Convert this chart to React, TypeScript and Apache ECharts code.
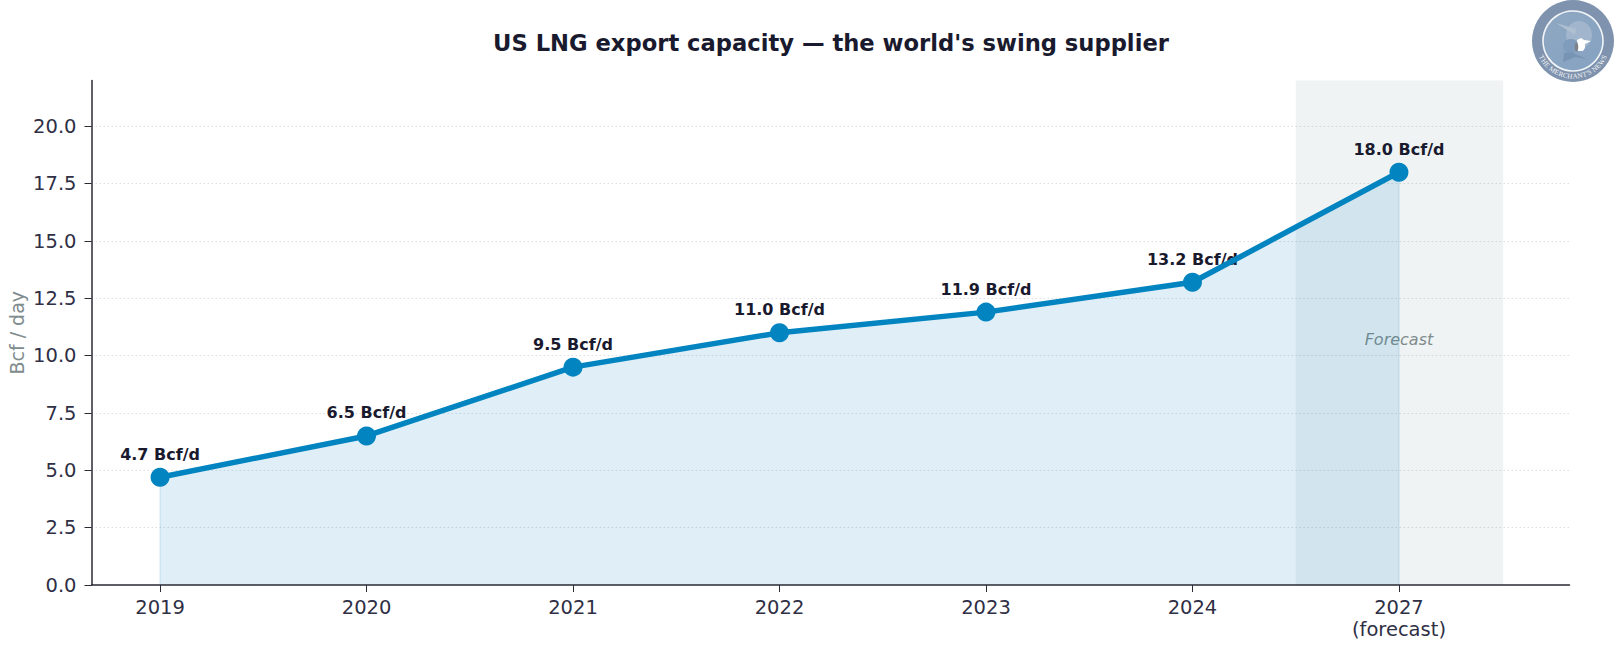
import React, { useEffect, useRef } from "react";
import * as echarts from "echarts";

const categories = ["2019", "2020", "2021", "2022", "2023", "2024", "2027\n(forecast)"];
const capacity = [4.7, 6.5, 9.5, 11.0, 11.9, 13.2, 18.0];
const yTicks = [0, 2.5, 5, 7.5, 10, 12.5, 15, 17.5, 20];
const forecastBand = [5.5, 6.505];
const forecastLabelValue = 10.7;
const title = "US LNG export capacity — the world's swing supplier";
const logoText = "THE MERCHANT'S NEWS";
const logoGlyphWidths: Record<string, number> = {
  T: 0.61, H: 0.72, E: 0.61, " ": 0.25, M: 0.89, R: 0.67, C: 0.67, A: 0.72, N: 0.72, "'": 0.18, S: 0.56, W: 0.94,
};

const FONT = "'DejaVu Sans'";
const DARK = "#1a1a2e";
const AXIS = "#2a2a35";
const TICK_TEXT = "#2f2f45";
const BLUE = "#0284c0";
const GREY = "#7f8c8d";

const CX = 1573, CY = 41;

function logoElements(): any[] {
  const els: any[] = [
    { type: "circle", shape: { cx: CX, cy: CY, r: 41 }, style: { fill: "#7f93ae" }, z: 100 },
    {
      type: "circle",
      shape: { cx: CX, cy: CY, r: 30 },
      style: {
        stroke: "#f2f5f8",
        lineWidth: 1.6,
        fill: {
          type: "linear", x: 0, y: 0, x2: 1, y2: 1,
          colorStops: [{ offset: 0, color: "#8fa8c2" }, { offset: 1, color: "#85a2c2" }],
        },
      },
      z: 101,
    },
    { type: "ellipse", shape: { cx: CX + 6, cy: CY - 6, rx: 13, ry: 14 }, style: { fill: "#a1b6cc" }, z: 102 },
    { type: "polygon", shape: { points: [[CX - 17, CY - 18], [CX + 3, CY - 12], [CX + 2, CY - 6]] }, style: { fill: "#aebfd2" }, z: 103 },
    { type: "ellipse", shape: { cx: CX - 2, cy: CY + 5, rx: 8, ry: 7 }, style: { fill: "#7f9cbc" }, z: 103 },
    { type: "polygon", shape: { points: [[CX - 10, CY + 21], [CX - 9, CY + 12], [CX - 2, CY + 11], [CX + 14, CY + 18], [CX + 2, CY + 16]] }, style: { fill: "#7794b5" }, z: 103 },
    { type: "polygon", shape: { points: [[CX + 4, CY - 1], [CX + 8, CY - 3], [CX + 11, CY - 1], [CX + 18, CY], [CX + 12, CY + 3], [CX + 12, CY + 7], [CX + 10, CY + 10], [CX + 5, CY + 10]] }, style: { fill: "#ffffff" }, z: 104 },
    { type: "ellipse", shape: { cx: CX + 3.5, cy: CY + 6, rx: 1.8, ry: 4.5 }, style: { fill: "#7d8288" }, z: 105 },
  ];
  const chars = logoText.split("");
  const radius = 35.5;
  const fontSize = 7;
  const widths = chars.map((c) => logoGlyphWidths[c] * fontSize);
  const total = widths.reduce((a, b) => a + b, 0);
  let run = -total / 2;
  chars.forEach((ch, i) => {
    const a = (run + widths[i] / 2) / radius;
    run += widths[i];
    if (ch === " ") return;
    els.push({
      type: "text",
      x: CX + radius * Math.sin(a),
      y: CY + radius * Math.cos(a),
      rotation: a,
      z: 106,
      style: {
        text: ch,
        fill: "#f4f6f8",
        font: `${fontSize}px 'Liberation Serif'`,
        align: "center",
        verticalAlign: "middle",
      },
    });
  });
  return els;
}

export default function App() {
  const ref = useRef<HTMLDivElement>(null);
  useEffect(() => {
    const chart = echarts.init(ref.current!, null, { renderer: "svg" });
    const pts = capacity.map((v, i) => [i, v]);
    const last = capacity.length - 1;
    const edge = (i: number) => ({
      type: "line",
      silent: true,
      z: 4,
      symbol: "none",
      lineStyle: { color: "rgba(0,122,190,0.12)", width: 1.5 },
      data: [[i, 0], [i, capacity[i]]],
    });
    chart.setOption({
      animation: false,
      backgroundColor: "#ffffff",
      textStyle: { fontFamily: FONT },
      title: {
        text: title,
        left: 826,
        top: 26,
        textAlign: "center",
        textStyle: { fontFamily: FONT, fontSize: 22.65, fontWeight: "bold", color: DARK },
      },
      grid: { left: 91.5, right: 48.5, top: 80.5, bottom: 71, outerBoundsMode: "none" },
      xAxis: {
        type: "value",
        min: -0.332,
        max: 6.826,
        z: 10,
        splitLine: { show: false },
        axisLine: { show: true, onZero: false, lineStyle: { color: AXIS, width: 1.5 } },
        axisTick: { show: true, length: 7, lineStyle: { color: AXIS, width: 1 }, customValues: categories.map((_, i) => i) },
        axisLabel: {
          customValues: categories.map((_, i) => i),
          formatter: (v: number) => categories[v] ?? "",
          color: TICK_TEXT,
          fontSize: 19.5,
          lineHeight: 22,
          margin: 11,
          fontFamily: FONT,
        },
      },
      yAxis: {
        type: "value",
        min: 0,
        max: 22,
        z: 10,
        name: "Bcf / day",
        nameLocation: "middle",
        nameGap: 65,
        nameMoveOverlap: false,
        nameTextStyle: { color: GREY, fontSize: 19, fontFamily: FONT },
        axisLine: { show: true, onZero: false, lineStyle: { color: AXIS, width: 1.5 } },
        axisTick: { show: true, length: 7, lineStyle: { color: AXIS, width: 1 }, customValues: yTicks },
        axisLabel: {
          customValues: yTicks,
          formatter: (v: number) => v.toFixed(1),
          color: TICK_TEXT,
          fontSize: 19.5,
          margin: 15,
          fontFamily: FONT,
        },
        splitLine: { show: false },
      },
      series: [
        {
          type: "scatter",
          name: "grid",
          silent: true,
          z: 1,
          symbolSize: 0,
          data: [],
          markLine: {
            silent: true,
            symbol: "none",
            z: 1,
            label: { show: false },
            lineStyle: { color: "#dcdfe2", type: [1.5, 2.5], width: 1 },
            data: yTicks.slice(1).map((t) => ({ yAxis: t })),
          },
        },
        {
          type: "scatter",
          name: "Forecast",
          silent: true,
          z: 2,
          symbolSize: 0,
          data: [],
          markArea: {
            silent: true,
            z: 2,
            itemStyle: { color: "rgba(95,135,145,0.1)" },
            label: { show: false },
            data: [[{ xAxis: forecastBand[0] }, { xAxis: forecastBand[1] }]],
          },
        },
        {
          type: "scatter",
          name: "Forecast label",
          silent: true,
          z: 3,
          symbolSize: 0,
          itemStyle: { opacity: 1 },
          data: [[last, forecastLabelValue]],
          label: {
            show: true,
            position: "inside",
            formatter: "Forecast",
            color: GREY,
            fontStyle: "italic",
            fontSize: 16,
            fontFamily: FONT,
          },
        },
        {
          type: "scatter",
          name: "Labels",
          silent: true,
          z: 4,
          symbolSize: 0,
          itemStyle: { opacity: 1 },
          data: pts,
          label: {
            show: true,
            position: "top",
            distance: 15,
            formatter: (p: any) => `${p.value[1].toFixed(1)} Bcf/d`,
            color: DARK,
            fontWeight: "bold",
            fontSize: 16,
            fontFamily: FONT,
          },
        },
        edge(0),
        edge(last),
        {
          type: "line",
          name: "US LNG export capacity",
          z: 5,
          data: pts,
          symbol: "circle",
          symbolSize: 19,
          showSymbol: true,
          lineStyle: { color: BLUE, width: 5.5 },
          itemStyle: { color: BLUE },
          areaStyle: { color: "rgba(0,122,190,0.12)", opacity: 1 },
        },
      ],
      graphic: { elements: logoElements() },
    });
    return () => chart.dispose();
  }, []);
  return <div ref={ref} style={{ position: "fixed", left: 0, top: 0, width: 1618, height: 656 }} />;
}
